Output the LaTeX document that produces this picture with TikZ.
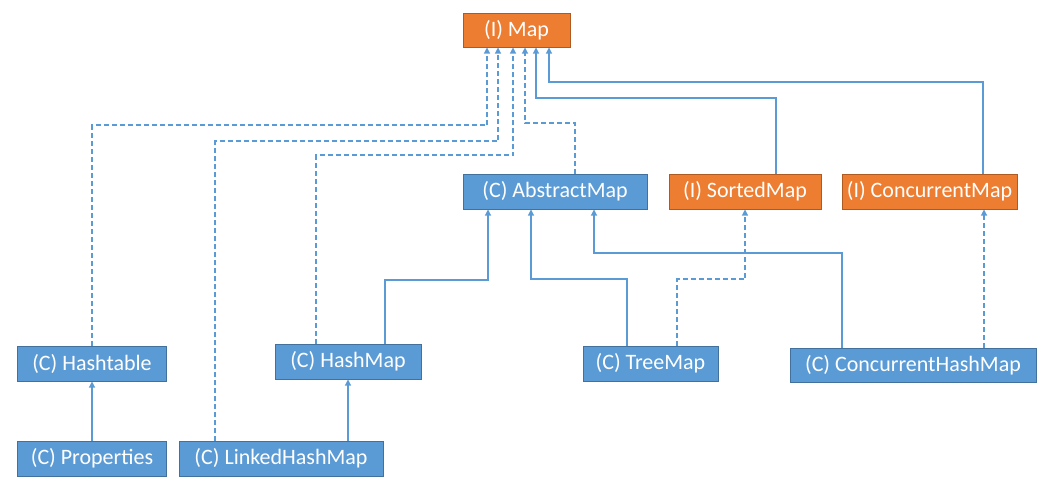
\documentclass[tikz,border=0pt]{standalone}
\usepackage{fontspec}
\setmainfont{Carlito}
\usetikzlibrary{arrows.meta}
\definecolor{bfill}{HTML}{5B9BD5}
\definecolor{bdraw}{HTML}{41719C}
\definecolor{ofill}{HTML}{ED7D31}
\definecolor{odraw}{HTML}{AE5A21}
\definecolor{lcol}{HTML}{5B9BD5}
\tikzset{
  cbox/.style={draw=bdraw, fill=bfill, line width=1pt, text=white, font=\fontsize{22}{24}\selectfont, inner sep=0pt, minimum height=35pt},
  ibox/.style={draw=odraw, fill=ofill, line width=1pt, text=white, font=\fontsize{22}{24}\selectfont, inner sep=0pt, minimum height=35pt},
  inh/.style={draw=lcol, line width=1.1pt, -{Triangle[width=6pt,length=6pt]}},
  impl/.style={inh, dash pattern=on 5pt off 3pt}
}
\begin{document}
\begin{tikzpicture}[x=1pt,y=-1pt]
\useasboundingbox (0,0) rectangle (1050,491);
\node[ibox, minimum width=107pt, minimum height=34pt] (map) at (516.5,30) {(I) Map};
\node[cbox, minimum width=184pt] (abstract) at (555,191.5) {(C) AbstractMap};
\node[ibox, minimum width=152pt] (sorted) at (745,191.5) {(I) SortedMap};
\node[ibox, minimum width=175pt] (cmap) at (929.5,191.5) {(I) ConcurrentMap};
\node[cbox, minimum width=149pt] (hashtable) at (92,363.5) {(C) Hashtable};
\node[cbox, minimum width=146pt] (hashmap) at (348,361.5) {(C) HashMap};
\node[cbox, minimum width=135pt] (treemap) at (650.5,363.5) {(C) TreeMap};
\node[cbox, minimum width=246pt, minimum height=34pt] (chm) at (913,365) {(C) ConcurrentHashMap};
\node[cbox, minimum width=149pt] (props) at (92,458.5) {(C) Properties};
\node[cbox, minimum width=204pt] (linked) at (281,458.5) {(C) LinkedHashMap};
% to Map
\draw[impl] (hashtable.north) |- (487,125) -- ([xshift=-29.5pt]map.south);
\draw[impl] ([xshift=-66pt]linked.north) |- (498,141) -- ([xshift=-18.5pt]map.south);
\draw[impl] ([xshift=-32pt]hashmap.north) |- (513,155) -- ([xshift=-3.5pt]map.south);
\draw[impl] ([xshift=20pt]abstract.north) |- (525,123) -- ([xshift=8.5pt]map.south);
\draw[inh] ([xshift=31pt]sorted.north) |- (536,98) -- ([xshift=19.5pt]map.south);
\draw[inh] ([xshift=53.5pt]cmap.north) |- (549,82) -- ([xshift=32.5pt]map.south);
% to AbstractMap
\draw[inh] ([xshift=37pt]hashmap.north) |- (488,280) -- ([xshift=-67pt]abstract.south);
\draw[inh] ([xshift=-23.5pt]treemap.north) |- (531,279) -- ([xshift=-24pt]abstract.south);
\draw[inh] ([xshift=-71pt]chm.north) |- (594,253) -- ([xshift=39pt]abstract.south);
% to SortedMap / ConcurrentMap
\draw[impl] ([xshift=26.5pt]treemap.north) |- (745,279) -- (sorted.south);
\draw[impl] ([xshift=71pt]chm.north) -- ([xshift=54.5pt]cmap.south);
% others
\draw[inh] (props.north) -- (hashtable.south);
\draw[inh] ([xshift=67pt]linked.north) -- (hashmap.south);
\end{tikzpicture}
\end{document}
